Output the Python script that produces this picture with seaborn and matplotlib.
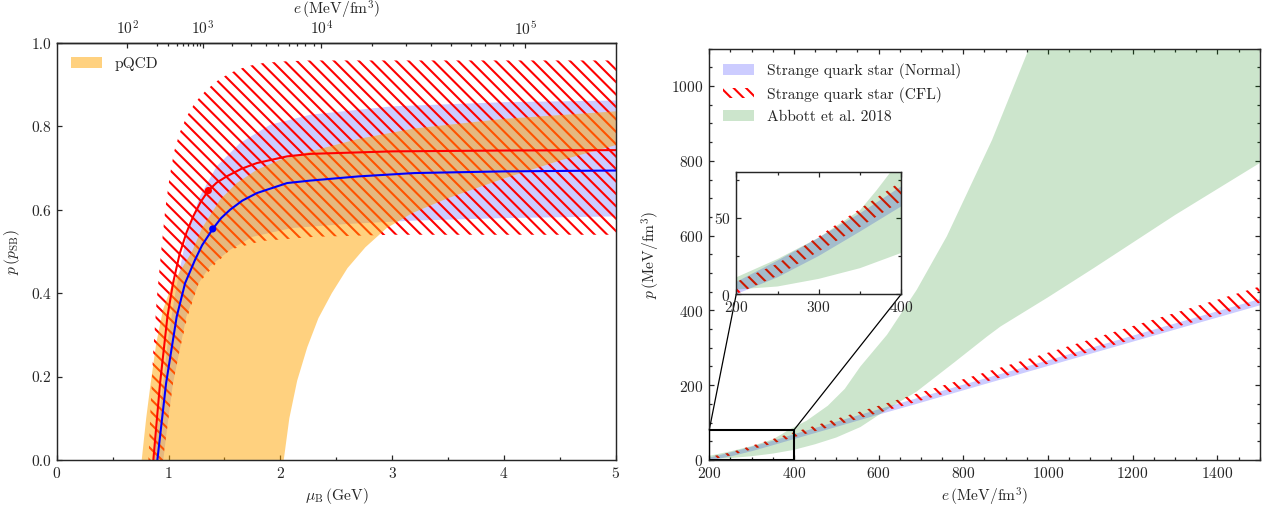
import numpy as np
import seaborn as sns
import matplotlib.pyplot as plt
from matplotlib.patches import Patch, Rectangle, ConnectionPatch
from matplotlib.ticker import MultipleLocator


# ---------------- left panel : p / p_SB against mu_B ----------------
# pQCD band (orange)
pqcd_up_mu = [0.76, 0.80, 0.84, 0.89, 0.95, 1.03, 1.12, 1.21, 1.30, 1.46, 1.61, 1.79, 2.00, 2.27, 2.70, 3.20, 4.00, 5.00]
pqcd_up_p = [0.00, 0.10, 0.184, 0.28, 0.36, 0.42, 0.46, 0.50, 0.556, 0.624, 0.664, 0.696, 0.720, 0.740, 0.770, 0.795, 0.818, 0.836]
pqcd_lo_mu = [2.03, 2.08, 2.15, 2.24, 2.34, 2.46, 2.60, 2.76, 2.95, 3.18, 3.50, 4.00, 4.50, 5.00]
pqcd_lo_p = [0.00, 0.10, 0.19, 0.27, 0.34, 0.40, 0.46, 0.51, 0.556, 0.592, 0.628, 0.675, 0.718, 0.755]

# strange quark star, CFL band (red hatch)
cfl_up_mu = [0.82, 0.84, 0.864, 0.894, 0.93, 0.97, 1.01, 1.05, 1.10, 1.163, 1.24, 1.34, 1.45, 1.55, 1.70, 1.85, 2.05, 2.27, 3.0, 5.0]
cfl_up_p = [0.0, 0.13, 0.264, 0.384, 0.49, 0.60, 0.68, 0.74, 0.785, 0.824, 0.858, 0.888, 0.912, 0.928, 0.944, 0.952, 0.956, 0.958, 0.958, 0.958]
cfl_lo_mu = [0.95, 1.00, 1.04, 1.10, 1.17, 1.27, 1.42, 1.55, 1.83, 2.30, 3.00, 5.00]
cfl_lo_p = [0.00, 0.10, 0.184, 0.264, 0.344, 0.424, 0.47, 0.504, 0.525, 0.535, 0.54, 0.54]

# strange quark star, normal band (blue)
nor_up_mu = [0.87, 0.90, 0.95, 1.00, 1.06, 1.118, 1.16, 1.28, 1.43, 1.64, 1.91, 2.27, 3.0, 4.0, 5.0]
nor_up_p = [0.00, 0.07, 0.18, 0.30, 0.40, 0.48, 0.536, 0.632, 0.704, 0.760, 0.804, 0.828, 0.848, 0.858, 0.862]
nor_lo_mu = [0.953, 1.00, 1.04, 1.10, 1.16, 1.27, 1.37, 1.55, 1.75, 2.10, 2.60, 3.20, 4.00, 5.00]
nor_lo_p = [0.00, 0.104, 0.184, 0.264, 0.344, 0.424, 0.464, 0.504, 0.535, 0.556, 0.566, 0.574, 0.580, 0.584]

# central curves and marked points
cfl_mu = [0.864, 0.924, 0.99, 1.04, 1.10, 1.16, 1.22, 1.29, 1.356, 1.43, 1.52, 1.65, 1.79, 2.06, 2.27, 3.0, 4.0, 5.0]
cfl_p = [0.0, 0.184, 0.344, 0.424, 0.495, 0.545, 0.584, 0.620, 0.646, 0.665, 0.680, 0.698, 0.712, 0.728, 0.734, 0.740, 0.742, 0.743]
nor_mu = [0.90, 0.978, 1.073, 1.148, 1.237, 1.30, 1.395, 1.47, 1.55, 1.66, 1.79, 2.06, 2.27, 2.7, 3.2, 4.0, 5.0]
nor_p = [0.0, 0.184, 0.344, 0.424, 0.48, 0.515, 0.554, 0.580, 0.600, 0.622, 0.640, 0.664, 0.670, 0.680, 0.688, 0.692, 0.694]
dot_mu = [1.356, 1.395]
dot_p = [0.646, 0.554]

# top axis: energy density ticks placed at mu_B
top_major_mu = [0.631, 1.306, 2.366, 4.19]
top_major_lab = ['$10^{2}$', '$10^{3}$', '$10^{4}$', '$10^{5}$']
top_minor_mu = [0.894, 0.998, 1.073, 1.132, 1.177, 1.216, 1.252, 1.282,
                1.563, 1.738, 1.873, 1.98, 2.074, 2.15, 2.22, 2.30,
                2.816, 3.12, 3.35, 3.53, 3.70, 3.83, 3.96, 4.08]

# ---------------- right panel : p against e ----------------
e_band = [200, 250, 300, 350, 400, 500, 600, 700, 800, 1000, 1200, 1500]
normal_lo = [0, 11, 25, 41, 57.5, 90, 123, 155, 188, 253, 318, 415]
normal_hi = [8, 22, 37, 53, 70.6, 104, 137, 170, 203, 268, 334, 432]
cflstar_lo = [0, 12, 28, 44, 61, 93, 126, 159, 192, 257, 322, 420]
cflstar_hi = [8, 20, 38, 56, 74, 110, 145, 181, 216, 287, 358, 464]

abbott_e_lo = [200, 250, 300, 350, 400, 450, 500, 557, 620, 690, 780, 856, 888, 1000, 1108, 1300, 1500]
abbott_p_lo = [3, 5, 10, 17, 27, 42, 60, 88, 135, 183, 262, 330, 357, 435, 513, 655, 794]
abbott_e_hi = [200, 250, 300, 350, 370, 387, 430, 480, 520, 557, 620, 690, 761, 868, 955, 1050, 1500]
abbott_p_hi = [11, 23, 37, 55, 68, 80, 105, 145, 190, 250, 335, 455, 598, 856, 1100, 1400, 1400]

zoom_box = (200, 400, 0, 80)

# ---------------- style ----------------
sns.set_style('ticks')
plt.rcParams['font.family'] = 'serif'
plt.rcParams['font.serif'] = ['cmr10']
plt.rcParams['mathtext.fontset'] = 'cm'
plt.rcParams['axes.formatter.use_mathtext'] = True
plt.rcParams['font.size'] = 7.5
plt.rcParams['axes.linewidth'] = 0.7
plt.rcParams['hatch.linewidth'] = 1.0

DPI = 149   # hatch spacing follows the dpi
fig = plt.figure(figsize=(1262.4 / DPI, 506.4 / DPI), dpi=DPI)
ax1 = fig.add_axes([56.7 / 1262, 46 / 506, 559 / 1262, 416.7 / 506])
ax2 = fig.add_axes([709 / 1262, 46 / 506, 550.3 / 1262, 411 / 506])
HATCH = '\\\\\\\\'


def tick_style(ax, **kw):
    ax.tick_params(which='both', direction='in', width=0.6, labelsize=7.5, pad=2.8, **kw)
    ax.tick_params(which='major', length=2.6)
    ax.tick_params(which='minor', length=1.4)


# left panel
ax1.fill(nor_up_mu + nor_lo_mu[::-1], nor_up_p + nor_lo_p[::-1], color='blue', alpha=0.2, lw=0)
ax1.fill(cfl_up_mu + cfl_lo_mu[::-1], cfl_up_p + cfl_lo_p[::-1], facecolor='none',
         edgecolor='red', hatch=HATCH, lw=0)
ax1.fill(pqcd_up_mu + pqcd_lo_mu[::-1], pqcd_up_p + pqcd_lo_p[::-1], color='orange', alpha=0.5, lw=0)
sns.lineplot(x=cfl_mu, y=cfl_p, ax=ax1, color='red', lw=1.0, sort=False, estimator=None)
sns.lineplot(x=nor_mu, y=nor_p, ax=ax1, color='blue', lw=1.0, sort=False, estimator=None)
sns.scatterplot(x=dot_mu, y=dot_p, ax=ax1, hue=['a', 'b'], palette=['red', 'blue'],
                s=12, linewidth=0, legend=False, zorder=5)

ax1.set_xlim(0, 5)
ax1.set_ylim(0, 1)
ax1.xaxis.set_major_locator(MultipleLocator(1))
ax1.xaxis.set_minor_locator(MultipleLocator(0.5))
ax1.yaxis.set_major_locator(MultipleLocator(0.2))
ax1.yaxis.set_major_formatter(plt.FormatStrFormatter('%.1f'))
tick_style(ax1, top=False, right=False)
ax1.set_xlabel(r'$\mu_{\rm B}\,(\mathrm{GeV})$', labelpad=2.3)
ax1.set_ylabel(r'$p\,(p_{\rm SB})$', labelpad=4.5)

secax = ax1.secondary_xaxis('top')
secax.set_xticks(top_major_mu, labels=top_major_lab)
secax.set_xticks(top_minor_mu, minor=True)
tick_style(secax)
secax.set_xlabel(r'$e\,(\mathrm{MeV/fm}^3)$', labelpad=2.2)

ax1.legend(handles=[Patch(facecolor='orange', alpha=0.5, lw=0, label='pQCD')],
           loc='upper left', frameon=False, handlelength=2.0, handletextpad=0.8)


# right panel
def draw_bands(ax):
    ax.fill_between(e_band, normal_lo, normal_hi, color='blue', alpha=0.2, lw=0)
    ax.fill_between(e_band, cflstar_lo, cflstar_hi, facecolor='none', edgecolor='red',
                    hatch=HATCH, lw=0)
    ax.fill(abbott_e_hi + abbott_e_lo[::-1], abbott_p_hi + abbott_p_lo[::-1],
            color='green', alpha=0.2, lw=0)


draw_bands(ax2)
ax2.set_xlim(200, 1500)
ax2.set_ylim(0, 1100)
ax2.xaxis.set_major_locator(MultipleLocator(200))
ax2.xaxis.set_minor_locator(MultipleLocator(50))
ax2.yaxis.set_major_locator(MultipleLocator(200))
ax2.yaxis.set_minor_locator(MultipleLocator(50))
tick_style(ax2, top=True, right=True)
ax2.set_xlabel(r'$e\,(\mathrm{MeV/fm}^3)$', labelpad=2.3)
ax2.set_ylabel(r'$p\,(\mathrm{MeV/fm}^3)$', labelpad=4.5)

handles = [Patch(facecolor='blue', alpha=0.2, lw=0, label='Strange quark star (Normal)'),
           Patch(facecolor='none', edgecolor='red', hatch=HATCH, lw=0, label='Strange quark star (CFL)'),
           Patch(facecolor='green', alpha=0.2, lw=0, label='Abbott et al. 2018')]
ax2.legend(handles=handles, loc='upper left', frameon=False, handlelength=2.0, handletextpad=0.8)

# inset
axin = ax2.inset_axes([0.0491, 0.4032, 0.2998, 0.2968])
draw_bands(axin)
axin.set_xlim(zoom_box[0], zoom_box[1])
axin.set_ylim(zoom_box[2], zoom_box[3])
axin.xaxis.set_major_locator(MultipleLocator(100))
axin.xaxis.set_minor_locator(MultipleLocator(50))
axin.yaxis.set_major_locator(MultipleLocator(50))
axin.yaxis.set_minor_locator(MultipleLocator(25))
tick_style(axin, top=True, right=True)
for sp in axin.spines.values():
    sp.set_linewidth(0.7)

ax2.add_patch(Rectangle((zoom_box[0], zoom_box[2]), zoom_box[1] - zoom_box[0], zoom_box[3] - zoom_box[2],
                        fill=False, ec='black', lw=1.0, zorder=4))
for xa, xb in [(zoom_box[0], 0), (zoom_box[1], 1)]:
    con = ConnectionPatch(xyA=(xa, zoom_box[3]), coordsA=ax2.transData,
                          xyB=(xb, 0), coordsB=axin.transAxes, color='black', lw=0.6)
    ax2.add_artist(con)

fig.savefig('out.png', dpi=DPI)
